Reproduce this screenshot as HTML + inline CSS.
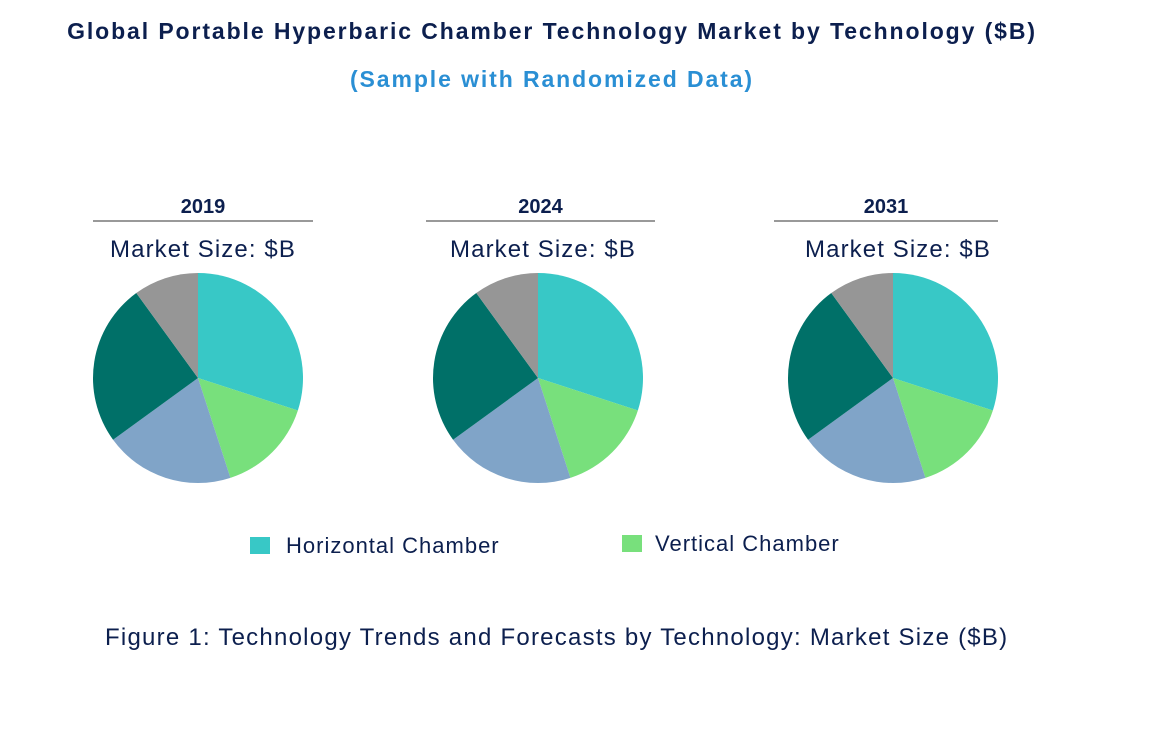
<!DOCTYPE html>
<html><head><meta charset="utf-8"><style>
body{margin:0;width:1170px;height:734px;background:#fff;font-family:"Liberation Sans",Arial,sans-serif;overflow:hidden;position:relative}
.t{position:absolute;white-space:nowrap}
</style></head><body>
<div class="t" style="left:0;width:1104px;text-align:center;top:18px;font-size:23px;font-weight:bold;color:#0c1f4e;letter-spacing:1.9px">Global Portable Hyperbaric Chamber Technology Market by Technology ($B)</div>
<div class="t" style="left:0;width:1104px;text-align:center;top:66px;font-size:23px;font-weight:bold;color:#2a8fd4;letter-spacing:1.9px">(Sample with Randomized Data)</div>
<svg id="c" width="1170" height="734" style="position:absolute;left:0;top:0"></svg>
<div class="t" style="left:105px;top:624px;font-size:24px;color:#0c1f4e;letter-spacing:1.24px">Figure 1: Technology Trends and Forecasts by Technology: Market Size ($B)</div>
<script>
const years=["2019","2024","2031"];
const seriesNames=["Horizontal Chamber","Vertical Chamber","Series 3","Series 4","Series 5"];
const values2019=[30,15,20,25,10];
const values2024=[30,15,20,25,10];
const values2031=[30,15,20,25,10];
const allValues=[values2019,values2024,values2031];
const colors=["#38c8c6","#78e07c","#80a4c8","#007068","#969696"];
const centers=[198,538,893], cy=378, R=105;
const lineSpans=[[93,313],[426,655],[774,998]];
const svg=document.getElementById('c');const NS="http://www.w3.org/2000/svg";
function mk(t,a){const e=document.createElementNS(NS,t);for(const k in a)e.setAttribute(k,a[k]);svg.appendChild(e);return e;}
years.forEach((y,i)=>{
 const cx=centers[i];
 const h=mk('text',{x:(lineSpans[i][0]+lineSpans[i][1])/2,y:213,'text-anchor':'middle','font-size':20,'font-weight':'bold',fill:'#0c1f4e','font-family':'Liberation Sans'});h.textContent=y;
 
 
 const l=mk('line',{x1:lineSpans[i][0],x2:lineSpans[i][1],y1:221,y2:221,stroke:'#333','stroke-width':1});
 
 
 const m=mk('text',{x:cx+5,y:257,'text-anchor':'middle','font-size':24,fill:'#0c1f4e','font-family':'Liberation Sans','letter-spacing':'1.1'});m.textContent="Market Size: $B";
 
 
 const vals=allValues[i];const tot=vals.reduce((a,b)=>a+b,0);let a0=0;
 vals.forEach((v,j)=>{
  const a1=a0+v/tot*2*Math.PI;
  const x0=cx+R*Math.sin(a0),y0=cy-R*Math.cos(a0),x1=cx+R*Math.sin(a1),y1=cy-R*Math.cos(a1);
  const p=mk('path',{d:`M${cx},${cy}L${x0},${y0}A${R},${R} 0 ${a1-a0>Math.PI?1:0} 1 ${x1},${y1}Z`,fill:colors[j]});
  
  
  a0=a1;
 });
});
const legend=[[250,546,0,286],[622,544,1,655]];
legend.forEach(([x,y,j,tx])=>{
 const r=mk('rect',{x:x,y:y-9,width:20,height:17,fill:colors[j]});
 
 
 const t=mk('text',{x:tx,y:y+7,'font-size':22,fill:'#0c1f4e','font-family':'Liberation Sans','letter-spacing':'1'});t.textContent=seriesNames[j];
 
 
});
</script>
</body></html>
